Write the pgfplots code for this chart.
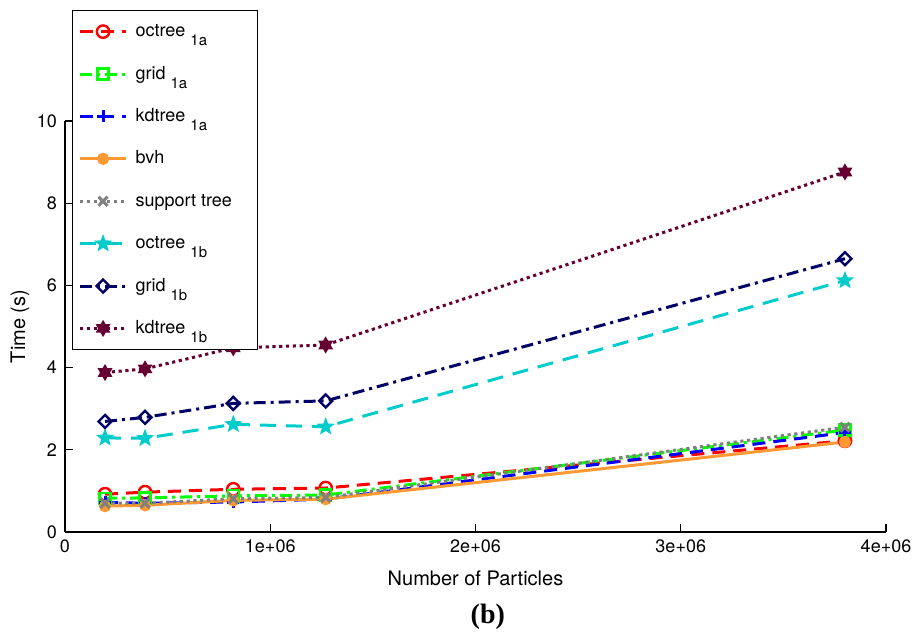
\documentclass[border=0pt]{standalone}
\usepackage{fontspec}
\setmainfont{TeX Gyre Heros}
\newfontfamily\capfont{Liberation Serif}
\usepackage{pgfplots}
\pgfplotsset{compat=1.18}

% filled five-pointed star
\pgfdeclareplotmark{fstar}{%
  \pgfpathmoveto{\pgfpointpolar{90}{\pgfplotmarksize}}%
  \pgfpathlineto{\pgfpointpolar{126}{0.42\pgfplotmarksize}}%
  \pgfpathlineto{\pgfpointpolar{162}{\pgfplotmarksize}}%
  \pgfpathlineto{\pgfpointpolar{198}{0.42\pgfplotmarksize}}%
  \pgfpathlineto{\pgfpointpolar{234}{\pgfplotmarksize}}%
  \pgfpathlineto{\pgfpointpolar{270}{0.42\pgfplotmarksize}}%
  \pgfpathlineto{\pgfpointpolar{306}{\pgfplotmarksize}}%
  \pgfpathlineto{\pgfpointpolar{342}{0.42\pgfplotmarksize}}%
  \pgfpathlineto{\pgfpointpolar{18}{\pgfplotmarksize}}%
  \pgfpathlineto{\pgfpointpolar{54}{0.42\pgfplotmarksize}}%
  \pgfpathclose
  \pgfusepathqfill}
% filled six-pointed star (two triangles)
\pgfdeclareplotmark{hexstar}{%
  \pgfpathmoveto{\pgfpointpolar{90}{\pgfplotmarksize}}%
  \pgfpathlineto{\pgfpointpolar{210}{\pgfplotmarksize}}%
  \pgfpathlineto{\pgfpointpolar{330}{\pgfplotmarksize}}%
  \pgfpathclose
  \pgfpathmoveto{\pgfpointpolar{270}{\pgfplotmarksize}}%
  \pgfpathlineto{\pgfpointpolar{30}{\pgfplotmarksize}}%
  \pgfpathlineto{\pgfpointpolar{150}{\pgfplotmarksize}}%
  \pgfpathclose
  \pgfusepathqfill}

\definecolor{cRed}{RGB}{255,0,0}
\definecolor{cGreen}{RGB}{0,255,0}
\definecolor{cBlue}{RGB}{0,0,255}
\definecolor{cOrange}{RGB}{255,153,51}
\definecolor{cGray}{RGB}{128,128,128}
\definecolor{cCyan}{RGB}{0,204,204}
\definecolor{cNavy}{RGB}{0,0,102}
\definecolor{cMaroon}{RGB}{102,0,51}

\newcommand{\sub}[1]{\ \raisebox{-4.5pt}{\fontsize{7.5}{8}\selectfont #1}}
\newcommand{\lgd}[1]{\hspace*{2pt}\makebox[56pt][l]{#1}}

\pgfplotsset{
  dashA/.style={dash pattern=on 6.5pt off 4pt},
  dashdotA/.style={dash pattern=on 6pt off 2.5pt on 1.5pt off 2.5pt},
  dotA/.style={dash pattern=on 1.6pt off 1.8pt},
}

\begin{document}
\begin{tikzpicture}
\begin{axis}[
  scale only axis, width=410.5pt, height=205.5pt,
  xmin=0, xmax=4e6, ymin=0, ymax=10,
  axis x line*=bottom, axis y line*=left,
  axis line style={-, line width=0.6pt},
  xtick={0,1e6,2e6,3e6,4e6}, xticklabels={0,1e+06,2e+06,3e+06,4e+06},
  ytick={0,2,4,6,8,10},
  scaled x ticks=false,
  tick align=inside, major tick length=4pt,
  tick style={black, line width=0.6pt},
  tick label style={font=\fontsize{9}{10}\selectfont},
  /pgf/number format/assume math mode=true,
  xlabel={Number of Particles}, ylabel={Time (s)},
  label style={font=\fontsize{10}{12}\selectfont},
  xlabel style={at={(axis description cs:0.5,-0.112)}, anchor=center},
  ylabel style={at={(axis description cs:-0.055,0.5)}, anchor=center},
  clip=false,
  line width=1.5pt,
  legend cell align=left,
  legend style={at={(axis description cs:0.0085,1.27)}, anchor=north west,
    draw=black, line width=0.6pt, fill=white,
    font=\fontsize{9}{10}\selectfont,
    nodes={text height=7pt, text depth=2pt},
    row sep=8.2pt, inner xsep=3pt, inner ysep=4pt},
  legend image code/.code={%
    \draw[line width=1.5pt, mark repeat=2, mark phase=2]
      plot coordinates {(0pt,0pt) (11.5pt,0pt) (23pt,0pt)};},
]
\addplot[cRed, dashA, mark=o, mark size=3.1pt, mark options={solid, line width=1.2pt}]
  coordinates {(195000,0.92) (390000,0.97) (820000,1.04) (1270000,1.07) (3800000,2.22)};
\addlegendentry{\lgd{octree\sub{1a}}}
\addplot[cGreen, dashdotA, mark=square, mark size=2.8pt, mark options={solid, line width=1.2pt}]
  coordinates {(195000,0.82) (390000,0.83) (820000,0.88) (1270000,0.90) (3800000,2.48)};
\addlegendentry{\lgd{grid\sub{1a}}}
\addplot[cBlue, dashA, mark=+, mark size=3pt, mark options={solid, line width=1.5pt}]
  coordinates {(195000,0.72) (390000,0.70) (820000,0.73) (1270000,0.80) (3800000,2.42)};
\addlegendentry{\lgd{kdtree\sub{1a}}}
\addplot[cOrange, solid, mark=*, mark size=2.3pt, mark options={solid}]
  coordinates {(195000,0.63) (390000,0.65) (820000,0.77) (1270000,0.80) (3800000,2.19)};
\addlegendentry{\lgd{bvh}}
\addplot[cGray, dotA, mark=x, mark size=3.2pt, mark options={solid, line width=1.5pt}]
  coordinates {(195000,0.70) (390000,0.70) (820000,0.81) (1270000,0.84) (3800000,2.55)};
\addlegendentry{\lgd{support tree}}
\addplot[cCyan, dash pattern=on 8pt off 5pt, mark=fstar, mark size=4.8pt, mark options={solid}]
  coordinates {(195000,2.29) (390000,2.28) (820000,2.62) (1270000,2.56) (3800000,6.12)};
\addlegendentry{\lgd{octree\sub{1b}}}
\addplot[cNavy, dashdotA, mark=square, mark size=2.3pt, mark options={solid, rotate=45, line width=1.2pt}]
  coordinates {(195000,2.69) (390000,2.79) (820000,3.13) (1270000,3.19) (3800000,6.65)};
\addlegendentry{\lgd{grid\sub{1b}}}
\addplot[cMaroon, dotA, mark=hexstar, mark size=4.3pt, mark options={solid}]
  coordinates {(195000,3.88) (390000,3.97) (820000,4.48) (1270000,4.55) (3800000,8.76)};
\addlegendentry{\lgd{kdtree\sub{1b}}}
\node[font=\capfont\bfseries\fontsize{14}{16}\selectfont] at (axis description cs:0.515,-0.207) {(b)};
\end{axis}
\pgfresetboundingbox
\path (-32.5pt,-51pt) rectangle (424pt,266pt);
\end{tikzpicture}
\end{document}
